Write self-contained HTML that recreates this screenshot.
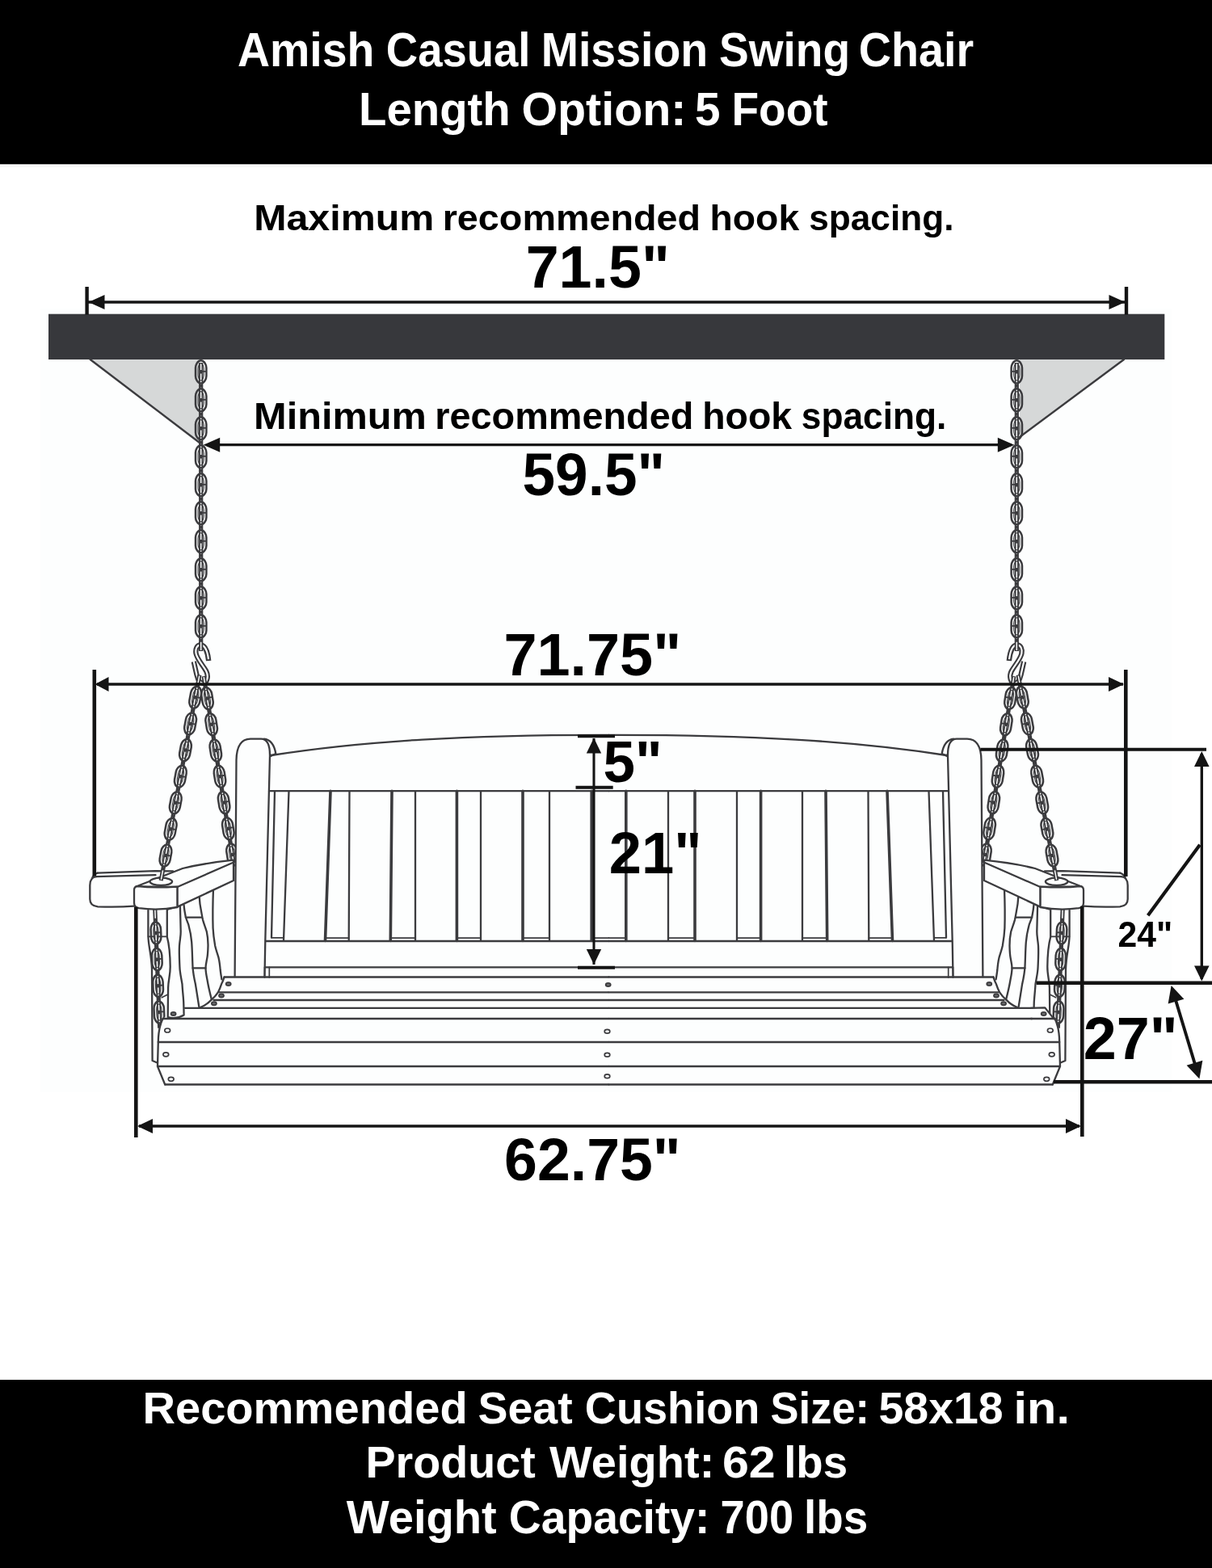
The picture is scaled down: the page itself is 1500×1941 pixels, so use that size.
<!DOCTYPE html>
<html lang="en">
<head>
<meta charset="utf-8">
<title>Amish Casual Mission Swing Chair - 5 Foot</title>
<style>
html,body{margin:0;padding:0;background:#fff;}
body{width:1500px;height:1941px;overflow:hidden;}
svg{display:block;will-change:transform;}
text{font-family:"Liberation Sans",Arial,Helvetica,sans-serif;font-weight:700;}
.l{fill:none;stroke:#3b3b3e;stroke-width:2.3;stroke-linecap:round;stroke-linejoin:round;}
.lf{fill:#fdfefe;stroke:#3b3b3e;stroke-width:2.3;stroke-linecap:round;stroke-linejoin:round;}
.lt{fill:none;stroke:#3b3b3e;stroke-width:3.6;stroke-linecap:round;}
.ln{fill:none;stroke:#3b3b3e;stroke-width:1.7;stroke-linecap:round;stroke-linejoin:round;}
.d{fill:none;stroke:#141414;stroke-width:4;}
.d3{fill:none;stroke:#141414;stroke-width:3.3;}
.co{fill:none;stroke:#3b3b3e;}
.cbar{fill:none;stroke:#3b3b3e;}
.ccore{fill:none;stroke:#fdfefe;stroke-width:1.5;}
.ck{fill:none;stroke:#3b3b3e;stroke-width:1.8;}
.sc{fill:#fdfefe;stroke:#3b3b3e;stroke-width:1.7;}
.sd{fill:#6a6a6c;stroke:#3b3b3e;stroke-width:1.8;}
</style>
</head>
<body>
<svg width="1500" height="1941" viewBox="0 0 1500 1941" role="img" aria-label="Amish Casual Mission Swing Chair dimension diagram">
<rect x="0" y="0" width="1500" height="1941" fill="#fff"/>
<rect x="50" y="382" width="1400" height="970" fill="#fdfefe"/>
<rect x="0" y="0" width="1500" height="203.3" fill="#000"/>
<rect x="0" y="205.2" width="1500" height="1.8" fill="#f6f6f6"/>
<rect x="0" y="1708" width="1500" height="233" fill="#000"/>
<rect x="60" y="388.7" width="1381.3" height="56.3" fill="#37383c"/>
<path d="M111.7 445H247V548Z" fill="#d6d8d8"/><path d="M111.7 445L247 548" class="ln" style="stroke-width:2.4"/>
<path d="M1391 445H1262V541Z" fill="#d6d8d8"/><path d="M1391 445L1262 541" class="ln" style="stroke-width:2.4"/>
<defs><g id="half"><path d="M258.2 818C257.2 808 254 798.6 248.4 798.4C243.6 798.3 241.6 803.5 242.6 809C244 816 251.5 824 255.3 831C258.3 837 256.6 845.6 251 845.8C246.5 845.9 244.6 840 243.4 835L239.8 819" fill="none" stroke="#3b3b3e" style="stroke-width:6.4" stroke-linejoin="round"/>
<path d="M258.2 818C257.2 808 254 798.6 248.4 798.4C243.6 798.3 241.6 803.5 242.6 809C244 816 251.5 824 255.3 831C258.3 837 256.6 845.6 251 845.8C246.5 845.9 244.6 840 243.4 835L239.8 819" fill="none" stroke="#fdfefe" style="stroke-width:2.1" stroke-linejoin="round" stroke-dasharray="200" stroke-dashoffset="-1.8"/>
<g transform="translate(248.7,460.3) rotate(0.00)">
<path d="M0 -11.2V345.8" class="cbar" style="stroke-width:5.2"/>
<path d="M0 -10.2V-2.2M0 2.2V15.5M0 19.5V32.8M0 37.2V50.5M0 54.5V67.8M0 72.2V85.5M0 89.5V102.8M0 107.2V120.5M0 124.5V137.8M0 142.2V155.5M0 159.5V172.8M0 177.2V190.5M0 194.5V207.8M0 212.2V225.5M0 229.5V242.8M0 247.2V260.5M0 264.5V277.8M0 282.2V295.5M0 299.5V312.8M0 317.2V330.5M0 334.5V344.8" class="ccore"/>
<path d="M0 -14.1C4.4 -14.1 6.7 -8.1 6.7 -5.1V5.1C6.7 8.1 4.4 14.1 0 14.1C-4.4 14.1 -6.7 8.1 -6.7 5.1V-5.1C-6.7 -8.1 -4.4 -14.1 0 -14.1Z" class="co" style="stroke-width:2.5"/>
<path d="M0 -10.7C2.3 -10.7 3.6 -6.2 3.6 -3.8V3.8C3.6 6.2 2.3 10.7 0 10.7C-2.3 10.7 -3.6 6.2 -3.6 3.8V-3.8C-3.6 -6.2 -2.3 -10.7 0 -10.7Z" class="co" style="stroke-width:1.1"/>
<path d="M2 -0.5H6.7" class="ck"/>
<path d="M0 20.9C4.4 20.9 6.7 26.9 6.7 29.9V40.1C6.7 43.1 4.4 49 0 49C-4.4 49 -6.7 43.1 -6.7 40.1V29.9C-6.7 26.9 -4.4 20.9 0 20.9Z" class="co" style="stroke-width:2.5"/>
<path d="M0 24.3C2.3 24.3 3.6 28.8 3.6 31.2V38.8C3.6 41.2 2.3 45.6 0 45.6C-2.3 45.6 -3.6 41.2 -3.6 38.8V31.2C-3.6 28.8 -2.3 24.3 0 24.3Z" class="co" style="stroke-width:1.1"/>
<path d="M2 34.5H6.7" class="ck"/>
<path d="M0 55.9C4.4 55.9 6.7 61.9 6.7 64.9V75.1C6.7 78.1 4.4 84 0 84C-4.4 84 -6.7 78.1 -6.7 75.1V64.9C-6.7 61.9 -4.4 55.9 0 55.9Z" class="co" style="stroke-width:2.5"/>
<path d="M0 59.3C2.3 59.3 3.6 63.8 3.6 66.2V73.8C3.6 76.2 2.3 80.6 0 80.6C-2.3 80.6 -3.6 76.2 -3.6 73.8V66.2C-3.6 63.8 -2.3 59.3 0 59.3Z" class="co" style="stroke-width:1.1"/>
<path d="M2 69.5H6.7" class="ck"/>
<path d="M0 90.9C4.4 90.9 6.7 96.9 6.7 99.9V110.1C6.7 113.1 4.4 119 0 119C-4.4 119 -6.7 113.1 -6.7 110.1V99.9C-6.7 96.9 -4.4 90.9 0 90.9Z" class="co" style="stroke-width:2.5"/>
<path d="M0 94.3C2.3 94.3 3.6 98.8 3.6 101.2V108.8C3.6 111.2 2.3 115.6 0 115.6C-2.3 115.6 -3.6 111.2 -3.6 108.8V101.2C-3.6 98.8 -2.3 94.3 0 94.3Z" class="co" style="stroke-width:1.1"/>
<path d="M2 104.5H6.7" class="ck"/>
<path d="M0 125.9C4.4 125.9 6.7 131.9 6.7 134.9V145.1C6.7 148.1 4.4 154 0 154C-4.4 154 -6.7 148.1 -6.7 145.1V134.9C-6.7 131.9 -4.4 125.9 0 125.9Z" class="co" style="stroke-width:2.5"/>
<path d="M0 129.3C2.3 129.3 3.6 133.8 3.6 136.2V143.8C3.6 146.2 2.3 150.6 0 150.6C-2.3 150.6 -3.6 146.2 -3.6 143.8V136.2C-3.6 133.8 -2.3 129.3 0 129.3Z" class="co" style="stroke-width:1.1"/>
<path d="M2 139.5H6.7" class="ck"/>
<path d="M0 160.9C4.4 160.9 6.7 166.9 6.7 169.9V180.1C6.7 183.1 4.4 189 0 189C-4.4 189 -6.7 183.1 -6.7 180.1V169.9C-6.7 166.9 -4.4 160.9 0 160.9Z" class="co" style="stroke-width:2.5"/>
<path d="M0 164.3C2.3 164.3 3.6 168.8 3.6 171.2V178.8C3.6 181.2 2.3 185.6 0 185.6C-2.3 185.6 -3.6 181.2 -3.6 178.8V171.2C-3.6 168.8 -2.3 164.3 0 164.3Z" class="co" style="stroke-width:1.1"/>
<path d="M2 174.5H6.7" class="ck"/>
<path d="M0 195.9C4.4 195.9 6.7 201.9 6.7 204.9V215.1C6.7 218.1 4.4 224 0 224C-4.4 224 -6.7 218.1 -6.7 215.1V204.9C-6.7 201.9 -4.4 195.9 0 195.9Z" class="co" style="stroke-width:2.5"/>
<path d="M0 199.3C2.3 199.3 3.6 203.8 3.6 206.2V213.8C3.6 216.2 2.3 220.6 0 220.6C-2.3 220.6 -3.6 216.2 -3.6 213.8V206.2C-3.6 203.8 -2.3 199.3 0 199.3Z" class="co" style="stroke-width:1.1"/>
<path d="M2 209.5H6.7" class="ck"/>
<path d="M0 230.9C4.4 230.9 6.7 236.9 6.7 239.9V250.1C6.7 253.1 4.4 259 0 259C-4.4 259 -6.7 253.1 -6.7 250.1V239.9C-6.7 236.9 -4.4 230.9 0 230.9Z" class="co" style="stroke-width:2.5"/>
<path d="M0 234.3C2.3 234.3 3.6 238.8 3.6 241.2V248.8C3.6 251.2 2.3 255.6 0 255.6C-2.3 255.6 -3.6 251.2 -3.6 248.8V241.2C-3.6 238.8 -2.3 234.3 0 234.3Z" class="co" style="stroke-width:1.1"/>
<path d="M2 244.5H6.7" class="ck"/>
<path d="M0 265.9C4.4 265.9 6.7 271.9 6.7 274.9V285.1C6.7 288.1 4.4 294 0 294C-4.4 294 -6.7 288.1 -6.7 285.1V274.9C-6.7 271.9 -4.4 265.9 0 265.9Z" class="co" style="stroke-width:2.5"/>
<path d="M0 269.3C2.3 269.3 3.6 273.8 3.6 276.2V283.8C3.6 286.2 2.3 290.6 0 290.6C-2.3 290.6 -3.6 286.2 -3.6 283.8V276.2C-3.6 273.8 -2.3 269.3 0 269.3Z" class="co" style="stroke-width:1.1"/>
<path d="M2 279.5H6.7" class="ck"/>
<path d="M0 300.9C4.4 300.9 6.7 306.9 6.7 309.9V320.1C6.7 323.1 4.4 329 0 329C-4.4 329 -6.7 323.1 -6.7 320.1V309.9C-6.7 306.9 -4.4 300.9 0 300.9Z" class="co" style="stroke-width:2.5"/>
<path d="M0 304.3C2.3 304.3 3.6 308.8 3.6 311.2V318.8C3.6 321.2 2.3 325.6 0 325.6C-2.3 325.6 -3.6 321.2 -3.6 318.8V311.2C-3.6 308.8 -2.3 304.3 0 304.3Z" class="co" style="stroke-width:1.1"/>
<path d="M2 314.5H6.7" class="ck"/>
</g>
<g transform="translate(256.5,864.5) rotate(-9.10)">
<path d="M0 -27.8V205.8" class="cbar" style="stroke-width:5.2"/>
<path d="M0 -26.8V-18.3M0 -14.3V-2.2M0 2.2V14.3M0 18.3V30.5M0 34.9V47M0 51V63.1M0 67.5V79.7M0 83.7V95.8M0 100.2V112.3M0 116.3V128.4M0 132.8V145M0 149V161.1M0 165.5V177.6M0 181.6V193.8M0 198.2V204.8" class="ccore"/>
<path d="M0 -13.7C4.3 -13.7 6.5 -7.9 6.5 -4.9V4.9C6.5 7.9 4.3 13.7 0 13.7C-4.3 13.7 -6.5 7.9 -6.5 4.9V-4.9C-6.5 -7.9 -4.3 -13.7 0 -13.7Z" class="co" style="stroke-width:2.5"/>
<path d="M0 -10.2C2.3 -10.2 3.4 -5.9 3.4 -3.7V3.7C3.4 5.9 2.3 10.2 0 10.2C-2.3 10.2 -3.4 5.9 -3.4 3.7V-3.7C-3.4 -5.9 -2.3 -10.2 0 -10.2Z" class="co" style="stroke-width:1.1"/>
<path d="M2 -0.5H6.5" class="ck"/>
<path d="M0 19C4.3 19 6.5 24.7 6.5 27.7V37.6C6.5 40.6 4.3 46.3 0 46.3C-4.3 46.3 -6.5 40.6 -6.5 37.6V27.7C-6.5 24.7 -4.3 19 0 19Z" class="co" style="stroke-width:2.5"/>
<path d="M0 22.4C2.3 22.4 3.4 26.7 3.4 29V36.4C3.4 38.6 2.3 42.9 0 42.9C-2.3 42.9 -3.4 38.6 -3.4 36.4V29C-3.4 26.7 -2.3 22.4 0 22.4Z" class="co" style="stroke-width:1.1"/>
<path d="M2 32.2H6.5" class="ck"/>
<path d="M0 51.7C4.3 51.7 6.5 57.4 6.5 60.4V70.2C6.5 73.2 4.3 79 0 79C-4.3 79 -6.5 73.2 -6.5 70.2V60.4C-6.5 57.4 -4.3 51.7 0 51.7Z" class="co" style="stroke-width:2.5"/>
<path d="M0 55.1C2.3 55.1 3.4 59.4 3.4 61.6V69C3.4 71.3 2.3 75.6 0 75.6C-2.3 75.6 -3.4 71.3 -3.4 69V61.6C-3.4 59.4 -2.3 55.1 0 55.1Z" class="co" style="stroke-width:1.1"/>
<path d="M2 64.8H6.5" class="ck"/>
<path d="M0 84.3C4.3 84.3 6.5 90.1 6.5 93.1V102.9C6.5 105.9 4.3 111.6 0 111.6C-4.3 111.6 -6.5 105.9 -6.5 102.9V93.1C-6.5 90.1 -4.3 84.3 0 84.3Z" class="co" style="stroke-width:2.5"/>
<path d="M0 87.7C2.3 87.7 3.4 92 3.4 94.3V101.7C3.4 103.9 2.3 108.2 0 108.2C-2.3 108.2 -3.4 103.9 -3.4 101.7V94.3C-3.4 92 -2.3 87.7 0 87.7Z" class="co" style="stroke-width:1.1"/>
<path d="M2 97.5H6.5" class="ck"/>
<path d="M0 117C4.3 117 6.5 122.7 6.5 125.7V135.6C6.5 138.6 4.3 144.3 0 144.3C-4.3 144.3 -6.5 138.6 -6.5 135.6V125.7C-6.5 122.7 -4.3 117 0 117Z" class="co" style="stroke-width:2.5"/>
<path d="M0 120.4C2.3 120.4 3.4 124.7 3.4 127V134.3C3.4 136.6 2.3 140.9 0 140.9C-2.3 140.9 -3.4 136.6 -3.4 134.3V127C-3.4 124.7 -2.3 120.4 0 120.4Z" class="co" style="stroke-width:1.1"/>
<path d="M2 130.1H6.5" class="ck"/>
<path d="M0 149.7C4.3 149.7 6.5 155.4 6.5 158.4V168.2C6.5 171.2 4.3 177 0 177C-4.3 177 -6.5 171.2 -6.5 168.2V158.4C-6.5 155.4 -4.3 149.7 0 149.7Z" class="co" style="stroke-width:2.5"/>
<path d="M0 153.1C2.3 153.1 3.4 157.4 3.4 159.6V167C3.4 169.3 2.3 173.6 0 173.6C-2.3 173.6 -3.4 169.3 -3.4 167V159.6C-3.4 157.4 -2.3 153.1 0 153.1Z" class="co" style="stroke-width:1.1"/>
<path d="M2 162.8H6.5" class="ck"/>
<path d="M0 182.3C4.3 182.3 6.5 188.1 6.5 191.1V200.9C6.5 203.9 4.3 209.6 0 209.6C-4.3 209.6 -6.5 203.9 -6.5 200.9V191.1C-6.5 188.1 -4.3 182.3 0 182.3Z" class="co" style="stroke-width:2.5"/>
<path d="M0 185.7C2.3 185.7 3.4 190 3.4 192.3V199.7C3.4 201.9 2.3 206.2 0 206.2C-2.3 206.2 -3.4 201.9 -3.4 199.7V192.3C-3.4 190 -2.3 185.7 0 185.7Z" class="co" style="stroke-width:1.1"/>
<path d="M2 195.5H6.5" class="ck"/>
</g>
<path d="M183.4 1127V1158C183.6 1172 187.3 1180 188 1200L188.6 1313L194.5 1315.5" class="l"/>
<path d="M183.4 1159.3H206.8" class="ln"/>
<g transform="translate(193,1155) rotate(-2.28)">
<path d="M0 -32.7V117.7" class="cbar" style="stroke-width:5.2"/>
<path d="M0 -30.5V-18.3M0 -14.3V-2.2M0 2.2V14.3M0 18.3V30.5M0 34.9V47M0 51V63.2M0 67.6V79.7M0 83.7V95.9M0 100.3V112.4" class="ccore"/>
<path d="M0 -13.6C4.1 -13.6 6.2 -7.9 6.2 -4.9V4.9C6.2 7.9 4.1 13.6 0 13.6C-4.1 13.6 -6.2 7.9 -6.2 4.9V-4.9C-6.2 -7.9 -4.1 -13.6 0 -13.6Z" class="co" style="stroke-width:2.5"/>
<path d="M0 -10.2C2.1 -10.2 3.1 -5.9 3.1 -3.7V3.7C3.1 5.9 2.1 10.2 0 10.2C-2.1 10.2 -3.1 5.9 -3.1 3.7V-3.7C-3.1 -5.9 -2.1 -10.2 0 -10.2Z" class="co" style="stroke-width:1.1"/>
<path d="M2 -0.5H6.2" class="ck"/>
<path d="M0 19.1C4.1 19.1 6.2 24.8 6.2 27.8V37.6C6.2 40.6 4.1 46.2 0 46.2C-4.1 46.2 -6.2 40.6 -6.2 37.6V27.8C-6.2 24.8 -4.1 19.1 0 19.1Z" class="co" style="stroke-width:2.5"/>
<path d="M0 22.5C2.1 22.5 3.1 26.8 3.1 29V36.3C3.1 38.6 2.1 42.8 0 42.8C-2.1 42.8 -3.1 38.6 -3.1 36.3V29C-3.1 26.8 -2.1 22.5 0 22.5Z" class="co" style="stroke-width:1.1"/>
<path d="M2 32.2H6.2" class="ck"/>
<path d="M0 51.8C4.1 51.8 6.2 57.5 6.2 60.5V70.3C6.2 73.2 4.1 78.9 0 78.9C-4.1 78.9 -6.2 73.2 -6.2 70.3V60.5C-6.2 57.5 -4.1 51.8 0 51.8Z" class="co" style="stroke-width:2.5"/>
<path d="M0 55.2C2.1 55.2 3.1 59.5 3.1 61.7V69C3.1 71.3 2.1 75.5 0 75.5C-2.1 75.5 -3.1 71.3 -3.1 69V61.7C-3.1 59.5 -2.1 55.2 0 55.2Z" class="co" style="stroke-width:1.1"/>
<path d="M2 64.9H6.2" class="ck"/>
<path d="M0 84.5C4.1 84.5 6.2 90.2 6.2 93.2V103C6.2 105.9 4.1 111.6 0 111.6C-4.1 111.6 -6.2 105.9 -6.2 103V93.2C-6.2 90.2 -4.1 84.5 0 84.5Z" class="co" style="stroke-width:2.5"/>
<path d="M0 87.9C2.1 87.9 3.1 92.2 3.1 94.4V101.7C3.1 104 2.1 108.2 0 108.2C-2.1 108.2 -3.1 104 -3.1 101.7V94.4C-3.1 92.2 -2.1 87.9 0 87.9Z" class="co" style="stroke-width:1.1"/>
<path d="M2 97.6H6.2" class="ck"/>
</g>
<path d="M200.3 1234.8L207.3 1231.3" class="ln"/>
<path d="M277.5 1209.5H753.5V1342.5H204.2L195 1320L195.8 1290Q196 1272 200.8 1261L229 1247.8L250 1247.8L265 1238.3L272.5 1228.3Z" fill="#fdfefe"/>
<path d="M206.8 1126V1159.8C209 1168 210.5 1175 210.7 1196.7C210.8 1207 208.3 1213 208.1 1222.7L207.7 1259Q218 1262 227.6 1256.4C227.5 1250 227.4 1246 227.2 1240C226.6 1231 225.8 1225 225.5 1218.3C224 1209 222.6 1204 222.4 1196.7C222 1187 221.5 1179 222 1170.7C222.6 1163 223.8 1159 223.7 1153.3L222.9 1121Z" class="lf"/>
<path d="M227.6 1120.4C228 1126 229 1131 229.8 1135C231 1139 232.3 1142 233.3 1144.7C235.3 1152 236.6 1159 237.2 1166.3C238 1177 238 1187 238.5 1196.7C239 1205 240.5 1212 241.9 1218.3C243.5 1228 245 1238 246.3 1246" class="l"/>
<path d="M246.7 1110C247 1116 247.8 1122 248.9 1127.3C249.6 1131 250.2 1135 251 1138.6C252.5 1144 254.6 1149 255.8 1153.3C257 1159 257.6 1165 257.5 1170.7C257.4 1175 257.2 1180 256.7 1183.7C256 1189 254.6 1193 254.5 1198.4C254.6 1204 255.8 1209 256.7 1214C258 1222 260 1230 261.9 1237.4" class="l"/>
<path d="M229.8 1135.6H249.7M238.5 1198.4H254.5" class="l"/>
<path d="M264 1100C263.3 1118 263.2 1135 263.6 1149C264 1157 265 1164 266.2 1170.7C267.4 1176 269.2 1181 270.5 1185.4C271.6 1190 272.3 1196 272.7 1201C273.2 1205 273.8 1209 274.4 1212.3" class="l"/>
<path d="M277.5 1209.7C276.5 1213 275.3 1216 274 1218.3C272.8 1222 271.4 1225.5 269.7 1228.7C267.5 1232 265 1235 261.9 1237.4C258 1241.5 253.5 1245 248 1247" class="l"/>
<path d="M326.7 914.7Q338.5 916 341.3 933L335 936Z" class="lf"/>
<path d="M290.6 1209L292.5 941Q293 914.7 310 914.7H323Q334 914.7 334 935L328.3 1165L327.5 1209" class="lf"/>
<path d="M335.6 935C450 917 580 909.5 753.5 909.8" class="l"/>
<path d="M333 979.2H753.5" class="l"/>
<path d="M340 979.2L336 1160.5M357.5 979.2L351 1164.5M432.5 979.2L431.7 1164.5M514 979.2V1164.5M595 979.2V1164.5M680 979.2V1164.5" class="l"/>
<path d="M409 979.2L402.5 1164.5M485 979.2L483.3 1164.5M565.4 979.2V1164.5M647 979.2V1164.5M732.2 979.2V1164.5" class="lt"/>
<path d="M336 1160.8H351M402.5 1161.2H431.7M483.3 1161.2H514M566.8 1161.2H595M648.2 1161.2H680M733.4 1161.2H753.5" class="ln"/>
<path d="M329 1165H753.5M328 1197.3H753.5" class="l"/>
<path d="M327.5 1197.3V1210M333.3 1197.3V1210" class="ln"/>
<path d="M277.5 1209.5H753.5M271.4 1228.3H753.5M264.5 1238H753.5M229 1247.8H753.5M201.5 1261H753.5M195.8 1290H753.5M195 1320H753.5M204.2 1342.5H753.5" class="l"/>
<path d="M201.5 1261Q196 1272 195.8 1290L195 1320L204.2 1342.5" class="l"/>
<ellipse cx="282.7" cy="1218" rx="3" ry="2.1" class="sd"/>
<ellipse cx="274" cy="1232.4" rx="3" ry="2.1" class="sd"/>
<ellipse cx="264.9" cy="1242.3" rx="3" ry="2.1" class="sd"/>
<ellipse cx="214.6" cy="1254.9" rx="3" ry="2.1" class="sd"/>
<ellipse cx="207.2" cy="1275.5" rx="3.4" ry="2.5" class="sc"/>
<ellipse cx="205.3" cy="1305.3" rx="3.4" ry="2.5" class="sc"/>
<ellipse cx="211.7" cy="1335.8" rx="3.4" ry="2.5" class="sc"/>
<path d="M120.8 1080.6L191.7 1078.3L216.7 1078.5L180 1096H166.2V1121.6Q145 1123.3 121 1122.3Q111.3 1121.5 111.3 1113V1096Q111.3 1083 120.8 1080.6Z" fill="#fdfefe"/>
<path d="M120.8 1080.6L191.7 1078.2L214 1078.3M119.2 1085.2L192.5 1083.2" class="l"/>
<path d="M119.2 1085.2Q111.3 1086 111.3 1096V1113Q111.3 1121.5 121 1122.3Q145 1123.3 166.2 1121.6M113.2 1089Q115.5 1082 120.8 1080.6" class="l"/>
<path d="M168.3 1097.5L226 1075Q252 1068.5 289 1064.7V1090L219.4 1122.6V1098Z" class="lf"/>
<path d="M219.4 1098L289 1067.5" class="l"/>
<ellipse cx="199.3" cy="1091.3" rx="13.8" ry="4.6" class="lf"/>
<path d="M170.5 1097.2Q190 1099.5 219.4 1097.6V1123Q196 1127.6 172 1124.2Q166 1123.2 166 1117.5V1102Q166 1097.2 170.5 1097.2Z" class="lf"/>
<g transform="translate(241.7,863.3) rotate(10.62)">
<path d="M0 -28.2V230.6" class="cbar" style="stroke-width:5.2"/>
<path d="M0 -27.2V-18.6M0 -14.6V-2.2M0 2.2V14.6M0 18.6V31M0 35.4V47.8M0 51.8V64.2M0 68.6V81M0 85V97.4M0 101.8V114.1M0 118.1V130.5M0 134.9V147.3M0 151.3V163.7M0 168.1V180.5M0 184.5V196.9M0 201.3V213.7M0 217.7V229.6" class="ccore"/>
<path d="M0 -13.7C4.3 -13.7 6.5 -7.9 6.5 -4.9V4.9C6.5 7.9 4.3 13.7 0 13.7C-4.3 13.7 -6.5 7.9 -6.5 4.9V-4.9C-6.5 -7.9 -4.3 -13.7 0 -13.7Z" class="co" style="stroke-width:2.5"/>
<path d="M0 -10.2C2.3 -10.2 3.4 -5.9 3.4 -3.7V3.7C3.4 5.9 2.3 10.2 0 10.2C-2.3 10.2 -3.4 5.9 -3.4 3.7V-3.7C-3.4 -5.9 -2.3 -10.2 0 -10.2Z" class="co" style="stroke-width:1.1"/>
<path d="M2 -0.5H6.5" class="ck"/>
<path d="M0 19.5C4.3 19.5 6.5 25.3 6.5 28.3V38.1C6.5 41.1 4.3 46.8 0 46.8C-4.3 46.8 -6.5 41.1 -6.5 38.1V28.3C-6.5 25.3 -4.3 19.5 0 19.5Z" class="co" style="stroke-width:2.5"/>
<path d="M0 22.9C2.3 22.9 3.4 27.2 3.4 29.5V36.9C3.4 39.1 2.3 43.4 0 43.4C-2.3 43.4 -3.4 39.1 -3.4 36.9V29.5C-3.4 27.2 -2.3 22.9 0 22.9Z" class="co" style="stroke-width:1.1"/>
<path d="M2 32.7H6.5" class="ck"/>
<path d="M0 52.7C4.3 52.7 6.5 58.5 6.5 61.5V71.3C6.5 74.3 4.3 80 0 80C-4.3 80 -6.5 74.3 -6.5 71.3V61.5C-6.5 58.5 -4.3 52.7 0 52.7Z" class="co" style="stroke-width:2.5"/>
<path d="M0 56.1C2.3 56.1 3.4 60.4 3.4 62.7V70.1C3.4 72.3 2.3 76.6 0 76.6C-2.3 76.6 -3.4 72.3 -3.4 70.1V62.7C-3.4 60.4 -2.3 56.1 0 56.1Z" class="co" style="stroke-width:1.1"/>
<path d="M2 65.9H6.5" class="ck"/>
<path d="M0 85.9C4.3 85.9 6.5 91.6 6.5 94.6V104.5C6.5 107.5 4.3 113.2 0 113.2C-4.3 113.2 -6.5 107.5 -6.5 104.5V94.6C-6.5 91.6 -4.3 85.9 0 85.9Z" class="co" style="stroke-width:2.5"/>
<path d="M0 89.3C2.3 89.3 3.4 93.6 3.4 95.9V103.2C3.4 105.5 2.3 109.8 0 109.8C-2.3 109.8 -3.4 105.5 -3.4 103.2V95.9C-3.4 93.6 -2.3 89.3 0 89.3Z" class="co" style="stroke-width:1.1"/>
<path d="M2 99.1H6.5" class="ck"/>
<path d="M0 119.1C4.3 119.1 6.5 124.8 6.5 127.8V137.7C6.5 140.7 4.3 146.4 0 146.4C-4.3 146.4 -6.5 140.7 -6.5 137.7V127.8C-6.5 124.8 -4.3 119.1 0 119.1Z" class="co" style="stroke-width:2.5"/>
<path d="M0 122.5C2.3 122.5 3.4 126.8 3.4 129.1V136.4C3.4 138.7 2.3 143 0 143C-2.3 143 -3.4 138.7 -3.4 136.4V129.1C-3.4 126.8 -2.3 122.5 0 122.5Z" class="co" style="stroke-width:1.1"/>
<path d="M2 132.2H6.5" class="ck"/>
<path d="M0 152.3C4.3 152.3 6.5 158 6.5 161V170.8C6.5 173.8 4.3 179.6 0 179.6C-4.3 179.6 -6.5 173.8 -6.5 170.8V161C-6.5 158 -4.3 152.3 0 152.3Z" class="co" style="stroke-width:2.5"/>
<path d="M0 155.7C2.3 155.7 3.4 160 3.4 162.2V169.6C3.4 171.9 2.3 176.2 0 176.2C-2.3 176.2 -3.4 171.9 -3.4 169.6V162.2C-3.4 160 -2.3 155.7 0 155.7Z" class="co" style="stroke-width:1.1"/>
<path d="M2 165.4H6.5" class="ck"/>
<path d="M0 185.5C4.3 185.5 6.5 191.2 6.5 194.2V204C6.5 207 4.3 212.8 0 212.8C-4.3 212.8 -6.5 207 -6.5 204V194.2C-6.5 191.2 -4.3 185.5 0 185.5Z" class="co" style="stroke-width:2.5"/>
<path d="M0 188.9C2.3 188.9 3.4 193.2 3.4 195.4V202.8C3.4 205.1 2.3 209.4 0 209.4C-2.3 209.4 -3.4 205.1 -3.4 202.8V195.4C-3.4 193.2 -2.3 188.9 0 188.9Z" class="co" style="stroke-width:1.1"/>
<path d="M2 198.6H6.5" class="ck"/>
</g></g></defs>
<use href="#half"/>
<use href="#half" transform="translate(1507,0) scale(-1,1)"/>
<ellipse cx="752.7" cy="1219" rx="3" ry="2.1" class="sd"/>
<ellipse cx="751.5" cy="1276.7" rx="3.3" ry="2.4" class="sc"/>
<ellipse cx="751.5" cy="1305.7" rx="3.3" ry="2.4" class="sc"/>
<ellipse cx="751.5" cy="1332.3" rx="3.3" ry="2.4" class="sc"/>
<path d="M1277.5 1248.6L1293.3 1247.4L1303.6 1260L1304 1263H1277.5Z" fill="#fdfefe"/>
<path d="M1276 1247.8L1293.3 1247.4L1303.8 1260.6M1276 1261H1305.5" class="l"/>
<ellipse cx="1291.7" cy="1255" rx="3" ry="2.1" class="sd"/>
<path d="M109 374H1393" class="d3"/>
<path d="M107.6 355V389.5M1394 355V389.5" class="d" style="stroke-width:4.4"/>
<path d="M109.5 374L129.5 365V383Z" fill="#141414"/>
<path d="M1392.5 374L1372.5 365V383Z" fill="#141414"/>
<path d="M256 550.7H1252" class="d3"/>
<path d="M251.7 550.7L272.2 541.7V559.7Z" fill="#141414"/>
<path d="M1255.3 550.7L1234.8 541.7V559.7Z" fill="#141414"/>
<path d="M120 847H1390" class="d3"/>
<path d="M116.8 829V1084.5M1393.3 829V1085" class="d" style="stroke-width:4.6"/>
<path d="M117.5 847L134.5 838V856Z" fill="#141414"/>
<path d="M1391 847L1372 838V856Z" fill="#141414"/>
<path d="M735 914V1194" class="d3" style="stroke-width:3.1"/>
<path d="M715 911.3H761M712.5 974.7H758.7M715 1197.8H761" class="d" style="stroke-width:4"/>
<path d="M735 913.5L725.8 932.5H744.2Z" fill="#141414"/>
<path d="M735 1194L725.8 1175H744.2Z" fill="#141414"/>
<path d="M172 1394H1336" class="d3"/>
<path d="M168.3 1122.7V1408M1339.3 1121.7V1407" class="d" style="stroke-width:4.6"/>
<path d="M170 1394L189 1385V1403Z" fill="#141414"/>
<path d="M1338 1394L1319 1385V1403Z" fill="#141414"/>
<path d="M1213.3 927.7H1493" class="d" style="stroke-width:4"/>
<path d="M1487.3 933V1212" class="d3" style="stroke-width:3.4"/>
<path d="M1487.3 930L1478 949H1496.6Z" fill="#141414"/>
<path d="M1487.3 1214.5L1478 1195.5H1496.6Z" fill="#141414"/>
<path d="M1282.7 1216.7H1500M1304 1339.3H1500" class="d" style="stroke-width:4.6"/>
<path d="M1485 1045.7L1420.7 1133.3" class="d" style="stroke-width:4.2"/>
<g transform="translate(1449.6,1220) rotate(73.23)"><path d="M6 0H114.6" class="d3" style="stroke-width:3.9"/><path d="M0 0L20.5 -10.3V10.3Z" fill="#141414"/><path d="M120.6 0L100.1 -10.3V10.3Z" fill="#141414"/></g>
<text y="81.7" font-size="58.55" fill="#fff"><tspan x="293.9" textLength="169.5" lengthAdjust="spacingAndGlyphs">Amish</tspan> <tspan x="477.8" textLength="178.7" lengthAdjust="spacingAndGlyphs">Casual</tspan> <tspan x="669.7" textLength="206.5" lengthAdjust="spacingAndGlyphs">Mission</tspan> <tspan x="890.0" textLength="162.1" lengthAdjust="spacingAndGlyphs">Swing</tspan> <tspan x="1062.8" textLength="142.4" lengthAdjust="spacingAndGlyphs">Chair</tspan></text>
<text y="155" font-size="57.54" fill="#fff"><tspan x="444.0" textLength="187.8" lengthAdjust="spacingAndGlyphs">Length</tspan> <tspan x="645.4" textLength="204.0" lengthAdjust="spacingAndGlyphs">Option:</tspan> <tspan x="860.0" textLength="31.5" lengthAdjust="spacingAndGlyphs">5</tspan> <tspan x="905.4" textLength="119.2" lengthAdjust="spacingAndGlyphs">Foot</tspan></text>
<text y="285" font-size="45.22" fill="#000"><tspan x="314.2" textLength="223.0" lengthAdjust="spacingAndGlyphs">Maximum</tspan> <tspan x="547.7" textLength="319.4" lengthAdjust="spacingAndGlyphs">recommended</tspan> <tspan x="878.5" textLength="110.7" lengthAdjust="spacingAndGlyphs">hook</tspan> <tspan x="1001.2" textLength="179.3" lengthAdjust="spacingAndGlyphs">spacing.</tspan></text>
<text y="355.7" font-size="73.48" fill="#000"><tspan x="650.7" textLength="178.1" lengthAdjust="spacingAndGlyphs">71.5&quot;</tspan></text>
<text y="530.5" font-size="45.36" fill="#000"><tspan x="314.1" textLength="213.8" lengthAdjust="spacingAndGlyphs">Minimum</tspan> <tspan x="538.3" textLength="320.0" lengthAdjust="spacingAndGlyphs">recommended</tspan> <tspan x="869.2" textLength="110.9" lengthAdjust="spacingAndGlyphs">hook</tspan> <tspan x="991.8" textLength="179.6" lengthAdjust="spacingAndGlyphs">spacing.</tspan></text>
<text y="613.3" font-size="73.91" fill="#000"><tspan x="646.5" textLength="176.6" lengthAdjust="spacingAndGlyphs">59.5&quot;</tspan></text>
<text y="836" font-size="73.91" fill="#000"><tspan x="623.4" textLength="219.8" lengthAdjust="spacingAndGlyphs">71.75&quot;</tspan></text>
<text y="967.5" font-size="72.46" fill="#000"><tspan x="746.6" textLength="73.1" lengthAdjust="spacingAndGlyphs">5&quot;</tspan></text>
<text y="1080.8" font-size="72.46" fill="#000"><tspan x="753.8" textLength="114.7" lengthAdjust="spacingAndGlyphs">21&quot;</tspan></text>
<text y="1460.7" font-size="73.48" fill="#000"><tspan x="624.1" textLength="218.5" lengthAdjust="spacingAndGlyphs">62.75&quot;</tspan></text>
<text y="1310.7" font-size="73.48" fill="#000"><tspan x="1340.7" textLength="116.9" lengthAdjust="spacingAndGlyphs">27&quot;</tspan></text>
<text y="1171.7" font-size="43.48" fill="#000"><tspan x="1383.5" textLength="67.6" lengthAdjust="spacingAndGlyphs">24&quot;</tspan></text>
<text y="1762" font-size="56.23" fill="#fff"><tspan x="176.4" textLength="402.3" lengthAdjust="spacingAndGlyphs">Recommended</tspan> <tspan x="591.5" textLength="117.1" lengthAdjust="spacingAndGlyphs">Seat</tspan> <tspan x="723.8" textLength="216.6" lengthAdjust="spacingAndGlyphs">Cushion</tspan> <tspan x="953.6" textLength="122.5" lengthAdjust="spacingAndGlyphs">Size:</tspan> <tspan x="1087.5" textLength="154.2" lengthAdjust="spacingAndGlyphs">58x18</tspan> <tspan x="1254.6" textLength="69.3" lengthAdjust="spacingAndGlyphs">in.</tspan></text>
<text y="1829.2" font-size="56.38" fill="#fff"><tspan x="452.4" textLength="210.3" lengthAdjust="spacingAndGlyphs">Product</tspan> <tspan x="680.0" textLength="204.3" lengthAdjust="spacingAndGlyphs">Weight:</tspan> <tspan x="893.9" textLength="65.8" lengthAdjust="spacingAndGlyphs">62</tspan> <tspan x="970.2" textLength="78.8" lengthAdjust="spacingAndGlyphs">lbs</tspan></text>
<text y="1898" font-size="56.52" fill="#fff"><tspan x="428.8" textLength="186.0" lengthAdjust="spacingAndGlyphs">Weight</tspan> <tspan x="629.8" textLength="248.7" lengthAdjust="spacingAndGlyphs">Capacity:</tspan> <tspan x="891.6" textLength="90.5" lengthAdjust="spacingAndGlyphs">700</tspan> <tspan x="995.0" textLength="79.2" lengthAdjust="spacingAndGlyphs">lbs</tspan></text>
</svg>
</body>
</html>
